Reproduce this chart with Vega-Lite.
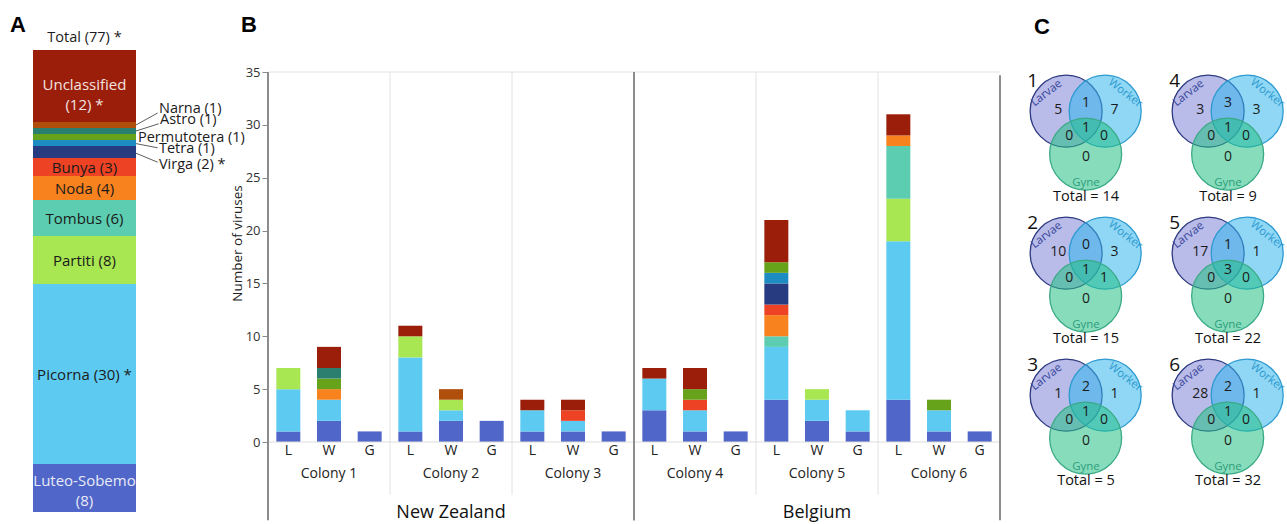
{
  "$schema": "https://vega.github.io/schema/vega-lite/v6.json",
  "padding": 0,
  "background": "white",
  "bounds": "flush",
  "spacing": 10,
  "config": {
    "view": {"stroke": null},
    "font": "Open Sans",
    "header": {"labels": false, "title": null, "labelFontSize": 0, "labelPadding": 0, "titlePadding": 0},
    "locale": {"number": {"decimal": ".", "thousands": ",", "grouping": [3], "currency": ["Total = ", ""]}}
  },
  "datasets": {
    "family": [
      {"family": "Luteo-Sobemo", "count": 8, "label": "Luteo-Sobemo\n(8)", "inside": true},
      {"family": "Picorna", "count": 30, "label": "Picorna (30) *", "inside": true},
      {"family": "Partiti", "count": 8, "label": "Partiti (8)", "inside": true},
      {"family": "Tombus", "count": 6, "label": "Tombus (6)", "inside": true},
      {"family": "Noda", "count": 4, "label": "Noda (4)", "inside": true},
      {"family": "Bunya", "count": 3, "label": "Bunya (3)", "inside": true},
      {"family": "Virga", "count": 2, "label": "Virga (2) *", "inside": false},
      {"family": "Tetra", "count": 1, "label": "Tetra (1)", "inside": false},
      {"family": "Permutotera", "count": 1, "label": "Permutotera (1)", "inside": false},
      {"family": "Astro", "count": 1, "label": "Astro (1)", "inside": false},
      {"family": "Narna", "count": 1, "label": "Narna (1)", "inside": false},
      {"family": "Unclassified", "count": 12, "label": "Unclassified\n(12) *", "inside": true}
    ],
    "bars": [
      {"colony": "Colony 1", "caste": "L", "family": "Luteo-Sobemo", "count": 1},
      {"colony": "Colony 1", "caste": "L", "family": "Picorna", "count": 4},
      {"colony": "Colony 1", "caste": "L", "family": "Partiti", "count": 2},
      {"colony": "Colony 1", "caste": "W", "family": "Luteo-Sobemo", "count": 2},
      {"colony": "Colony 1", "caste": "W", "family": "Picorna", "count": 2},
      {"colony": "Colony 1", "caste": "W", "family": "Noda", "count": 1},
      {"colony": "Colony 1", "caste": "W", "family": "Permutotera", "count": 1},
      {"colony": "Colony 1", "caste": "W", "family": "Astro", "count": 1},
      {"colony": "Colony 1", "caste": "W", "family": "Unclassified", "count": 2},
      {"colony": "Colony 1", "caste": "G", "family": "Luteo-Sobemo", "count": 1},
      {"colony": "Colony 2", "caste": "L", "family": "Luteo-Sobemo", "count": 1},
      {"colony": "Colony 2", "caste": "L", "family": "Picorna", "count": 7},
      {"colony": "Colony 2", "caste": "L", "family": "Partiti", "count": 2},
      {"colony": "Colony 2", "caste": "L", "family": "Unclassified", "count": 1},
      {"colony": "Colony 2", "caste": "W", "family": "Luteo-Sobemo", "count": 2},
      {"colony": "Colony 2", "caste": "W", "family": "Picorna", "count": 1},
      {"colony": "Colony 2", "caste": "W", "family": "Partiti", "count": 1},
      {"colony": "Colony 2", "caste": "W", "family": "Narna", "count": 1},
      {"colony": "Colony 2", "caste": "G", "family": "Luteo-Sobemo", "count": 2},
      {"colony": "Colony 3", "caste": "L", "family": "Luteo-Sobemo", "count": 1},
      {"colony": "Colony 3", "caste": "L", "family": "Picorna", "count": 2},
      {"colony": "Colony 3", "caste": "L", "family": "Unclassified", "count": 1},
      {"colony": "Colony 3", "caste": "W", "family": "Luteo-Sobemo", "count": 1},
      {"colony": "Colony 3", "caste": "W", "family": "Picorna", "count": 1},
      {"colony": "Colony 3", "caste": "W", "family": "Bunya", "count": 1},
      {"colony": "Colony 3", "caste": "W", "family": "Unclassified", "count": 1},
      {"colony": "Colony 3", "caste": "G", "family": "Luteo-Sobemo", "count": 1},
      {"colony": "Colony 4", "caste": "L", "family": "Luteo-Sobemo", "count": 3},
      {"colony": "Colony 4", "caste": "L", "family": "Picorna", "count": 3},
      {"colony": "Colony 4", "caste": "L", "family": "Unclassified", "count": 1},
      {"colony": "Colony 4", "caste": "W", "family": "Luteo-Sobemo", "count": 1},
      {"colony": "Colony 4", "caste": "W", "family": "Picorna", "count": 2},
      {"colony": "Colony 4", "caste": "W", "family": "Bunya", "count": 1},
      {"colony": "Colony 4", "caste": "W", "family": "Permutotera", "count": 1},
      {"colony": "Colony 4", "caste": "W", "family": "Unclassified", "count": 2},
      {"colony": "Colony 4", "caste": "G", "family": "Luteo-Sobemo", "count": 1},
      {"colony": "Colony 5", "caste": "L", "family": "Luteo-Sobemo", "count": 4},
      {"colony": "Colony 5", "caste": "L", "family": "Picorna", "count": 5},
      {"colony": "Colony 5", "caste": "L", "family": "Tombus", "count": 1},
      {"colony": "Colony 5", "caste": "L", "family": "Noda", "count": 2},
      {"colony": "Colony 5", "caste": "L", "family": "Bunya", "count": 1},
      {"colony": "Colony 5", "caste": "L", "family": "Virga", "count": 2},
      {"colony": "Colony 5", "caste": "L", "family": "Tetra", "count": 1},
      {"colony": "Colony 5", "caste": "L", "family": "Permutotera", "count": 1},
      {"colony": "Colony 5", "caste": "L", "family": "Unclassified", "count": 4},
      {"colony": "Colony 5", "caste": "W", "family": "Luteo-Sobemo", "count": 2},
      {"colony": "Colony 5", "caste": "W", "family": "Picorna", "count": 2},
      {"colony": "Colony 5", "caste": "W", "family": "Partiti", "count": 1},
      {"colony": "Colony 5", "caste": "G", "family": "Luteo-Sobemo", "count": 1},
      {"colony": "Colony 5", "caste": "G", "family": "Picorna", "count": 2},
      {"colony": "Colony 6", "caste": "L", "family": "Luteo-Sobemo", "count": 4},
      {"colony": "Colony 6", "caste": "L", "family": "Picorna", "count": 15},
      {"colony": "Colony 6", "caste": "L", "family": "Partiti", "count": 4},
      {"colony": "Colony 6", "caste": "L", "family": "Tombus", "count": 5},
      {"colony": "Colony 6", "caste": "L", "family": "Noda", "count": 1},
      {"colony": "Colony 6", "caste": "L", "family": "Unclassified", "count": 2},
      {"colony": "Colony 6", "caste": "W", "family": "Luteo-Sobemo", "count": 1},
      {"colony": "Colony 6", "caste": "W", "family": "Picorna", "count": 2},
      {"colony": "Colony 6", "caste": "W", "family": "Permutotera", "count": 1},
      {"colony": "Colony 6", "caste": "G", "family": "Luteo-Sobemo", "count": 1}
    ],
    "colonies": [
      {"colony": "Colony 1", "country": "New Zealand"},
      {"colony": "Colony 2", "country": "New Zealand"},
      {"colony": "Colony 3", "country": "New Zealand"},
      {"colony": "Colony 4", "country": "Belgium"},
      {"colony": "Colony 5", "country": "Belgium"},
      {"colony": "Colony 6", "country": "Belgium"}
    ],
    "venn": [
      {"colony": 1, "region": "L", "count": 5}, {"colony": 1, "region": "W", "count": 7}, {"colony": 1, "region": "G", "count": 0},
      {"colony": 1, "region": "LW", "count": 1}, {"colony": 1, "region": "LG", "count": 0}, {"colony": 1, "region": "WG", "count": 0},
      {"colony": 1, "region": "LWG", "count": 1}, {"colony": 1, "region": "Total", "count": 14},
      {"colony": 2, "region": "L", "count": 10}, {"colony": 2, "region": "W", "count": 3}, {"colony": 2, "region": "G", "count": 0},
      {"colony": 2, "region": "LW", "count": 0}, {"colony": 2, "region": "LG", "count": 0}, {"colony": 2, "region": "WG", "count": 1},
      {"colony": 2, "region": "LWG", "count": 1}, {"colony": 2, "region": "Total", "count": 15},
      {"colony": 3, "region": "L", "count": 1}, {"colony": 3, "region": "W", "count": 1}, {"colony": 3, "region": "G", "count": 0},
      {"colony": 3, "region": "LW", "count": 2}, {"colony": 3, "region": "LG", "count": 0}, {"colony": 3, "region": "WG", "count": 0},
      {"colony": 3, "region": "LWG", "count": 1}, {"colony": 3, "region": "Total", "count": 5},
      {"colony": 4, "region": "L", "count": 3}, {"colony": 4, "region": "W", "count": 3}, {"colony": 4, "region": "G", "count": 0},
      {"colony": 4, "region": "LW", "count": 3}, {"colony": 4, "region": "LG", "count": 0}, {"colony": 4, "region": "WG", "count": 0},
      {"colony": 4, "region": "LWG", "count": 1}, {"colony": 4, "region": "Total", "count": 9},
      {"colony": 5, "region": "L", "count": 17}, {"colony": 5, "region": "W", "count": 1}, {"colony": 5, "region": "G", "count": 0},
      {"colony": 5, "region": "LW", "count": 1}, {"colony": 5, "region": "LG", "count": 0}, {"colony": 5, "region": "WG", "count": 0},
      {"colony": 5, "region": "LWG", "count": 3}, {"colony": 5, "region": "Total", "count": 22},
      {"colony": 6, "region": "L", "count": 28}, {"colony": 6, "region": "W", "count": 1}, {"colony": 6, "region": "G", "count": 0},
      {"colony": 6, "region": "LW", "count": 2}, {"colony": 6, "region": "LG", "count": 0}, {"colony": 6, "region": "WG", "count": 0},
      {"colony": 6, "region": "LWG", "count": 1}, {"colony": 6, "region": "Total", "count": 32}
    ]
  },
  "hconcat": [
    {
      "width": 258,
      "height": 512,
      "data": {"name": "family"},
      "layer": [
        {
          "transform": [{"stack": "count", "groupby": [], "as": ["y0", "y1"]}],
          "mark": {"type": "rect"},
          "encoding": {
            "x": {"datum": 0, "type": "quantitative", "scale": {"domain": [-0.3204, 2.1845], "nice": false, "zero": false}, "axis": null},
            "x2": {"datum": 1},
            "y": {"field": "y1", "type": "quantitative", "scale": {"domain": [0, 85.333], "nice": false, "zero": false}, "axis": null},
            "y2": {"field": "y0"},
            "color": {
              "field": "family", "type": "nominal", "legend": null,
              "scale": {
                "domain": ["Luteo-Sobemo", "Picorna", "Partiti", "Tombus", "Noda", "Bunya", "Virga", "Tetra", "Permutotera", "Astro", "Narna", "Unclassified"],
                "range": ["#5066C8", "#5DCBF1", "#A8E652", "#5CCDB1", "#F8821E", "#EE4224", "#263B80", "#1D8CC2", "#66A31A", "#2A7F6E", "#B04F0C", "#9B1E0B"]
              }
            }
          }
        },
        {
          "transform": [
            {"stack": "count", "groupby": [], "as": ["y0", "y1"]},
            {"filter": "datum.inside"},
            {"fold": ["y0", "y1"], "as": ["edge", "pos"]},
            {"aggregate": [{"op": "mean", "field": "pos", "as": "mid"}], "groupby": ["family", "label"]}
          ],
          "layer": [
            {
              "transform": [{"filter": "datum.family !== 'Unclassified' && datum.family !== 'Luteo-Sobemo'"}],
              "mark": {"type": "text", "fontSize": 15, "align": "center", "baseline": "middle", "dy": 1, "color": "#1b1b1b"},
              "encoding": {
                "x": {"datum": 0.5, "type": "quantitative", "axis": null},
                "y": {"field": "mid", "type": "quantitative", "axis": null},
                "text": {"field": "label"}
              }
            },
            {
              "transform": [{"filter": "datum.family === 'Unclassified'"}],
              "mark": {"type": "text", "fontSize": 15, "lineBreak": "\n", "lineHeight": 20, "align": "center", "baseline": "middle", "dy": -1, "color": "#F3E4E0"},
              "encoding": {
                "x": {"datum": 0.5, "type": "quantitative", "axis": null},
                "y": {"field": "mid", "type": "quantitative", "axis": null},
                "text": {"field": "label"}
              }
            },
            {
              "transform": [{"filter": "datum.family === 'Luteo-Sobemo'"}],
              "mark": {"type": "text", "fontSize": 15, "lineBreak": "\n", "lineHeight": 20, "align": "center", "baseline": "middle", "dy": -7, "color": "#E8EAF8"},
              "encoding": {
                "x": {"datum": 0.5, "type": "quantitative", "axis": null},
                "y": {"field": "mid", "type": "quantitative", "axis": null},
                "text": {"field": "label"}
              }
            }
          ]
        },
        {
          "data": {"values": [{"label": "Total (77) *"}]},
          "mark": {"type": "text", "fontSize": 14.5, "align": "center", "baseline": "middle", "color": "#1b1b1b"},
          "encoding": {
            "x": {"datum": 0.5, "type": "quantitative", "axis": null},
            "y": {"datum": 79, "type": "quantitative", "axis": null},
            "text": {"field": "label"}
          }
        },
        {
          "data": {"values": [{"panel": "A"}]},
          "mark": {"type": "text", "fontSize": 22, "font": "Liberation Sans", "fontWeight": "bold", "align": "center", "baseline": "middle", "color": "#000"},
          "encoding": {
            "x": {"datum": -0.146, "type": "quantitative", "axis": null},
            "y": {"datum": 81.2, "type": "quantitative", "axis": null},
            "text": {"field": "panel"}
          }
        },
        {
          "data": {"values": [{"panel": "B"}]},
          "mark": {"type": "text", "fontSize": 22, "font": "Liberation Sans", "fontWeight": "bold", "align": "center", "baseline": "middle", "color": "#000"},
          "encoding": {
            "x": {"datum": 2.097, "type": "quantitative", "axis": null},
            "y": {"datum": 81.2, "type": "quantitative", "axis": null},
            "text": {"field": "panel"}
          }
        },
        {
          "transform": [{"filter": "datum.family === 'Narna'"}],
          "layer": [
            {"mark": {"type": "rule", "color": "#333", "strokeWidth": 0.8},
             "encoding": {"x": {"datum": 1.0, "type": "quantitative", "axis": null}, "x2": {"datum": 1.21}, "y": {"datum": 64.5, "type": "quantitative", "axis": null}, "y2": {"datum": 66.5}}},
            {"mark": {"type": "text", "fontSize": 14.5, "align": "left", "baseline": "middle", "color": "#1b1b1b"},
             "encoding": {"x": {"datum": 1.223, "type": "quantitative", "axis": null}, "y": {"datum": 67.2, "type": "quantitative", "axis": null}, "text": {"field": "label"}}}
          ]
        },
        {
          "transform": [{"filter": "datum.family === 'Astro'"}],
          "layer": [
            {"mark": {"type": "rule", "color": "#333", "strokeWidth": 0.8},
             "encoding": {"x": {"datum": 1.0, "type": "quantitative", "axis": null}, "x2": {"datum": 1.22}, "y": {"datum": 63.5, "type": "quantitative", "axis": null}, "y2": {"datum": 64.7}}},
            {"mark": {"type": "text", "fontSize": 14.5, "align": "left", "baseline": "middle", "color": "#1b1b1b"},
             "encoding": {"x": {"datum": 1.233, "type": "quantitative", "axis": null}, "y": {"datum": 65.3, "type": "quantitative", "axis": null}, "text": {"field": "label"}}}
          ]
        },
        {
          "transform": [{"filter": "datum.family === 'Permutotera'"}],
          "mark": {"type": "text", "fontSize": 14.5, "align": "left", "baseline": "middle", "color": "#1b1b1b"},
          "encoding": {"x": {"datum": 1.019, "type": "quantitative", "axis": null}, "y": {"datum": 62.4, "type": "quantitative", "axis": null}, "text": {"field": "label"}}
        },
        {
          "transform": [{"filter": "datum.family === 'Tetra'"}],
          "layer": [
            {"mark": {"type": "rule", "color": "#333", "strokeWidth": 0.8},
             "encoding": {"x": {"datum": 1.0, "type": "quantitative", "axis": null}, "x2": {"datum": 1.21}, "y": {"datum": 61.4, "type": "quantitative", "axis": null}, "y2": {"datum": 60.7}}},
            {"mark": {"type": "text", "fontSize": 14.5, "align": "left", "baseline": "middle", "color": "#1b1b1b"},
             "encoding": {"x": {"datum": 1.223, "type": "quantitative", "axis": null}, "y": {"datum": 60.5, "type": "quantitative", "axis": null}, "text": {"field": "label"}}}
          ]
        },
        {
          "transform": [{"filter": "datum.family === 'Virga'"}],
          "layer": [
            {"mark": {"type": "rule", "color": "#333", "strokeWidth": 0.8},
             "encoding": {"x": {"datum": 1.0, "type": "quantitative", "axis": null}, "x2": {"datum": 1.21}, "y": {"datum": 59.8, "type": "quantitative", "axis": null}, "y2": {"datum": 58.3}}},
            {"mark": {"type": "text", "fontSize": 14.5, "align": "left", "baseline": "middle", "color": "#1b1b1b"},
             "encoding": {"x": {"datum": 1.223, "type": "quantitative", "axis": null}, "y": {"datum": 57.8, "type": "quantitative", "axis": null}, "text": {"field": "label"}}}
          ]
        }
      ]
    },
    {
      "width": 732,
      "height": 442,
      "layer": [
        {
          "data": {"name": "bars"},
          "transform": [{"stack": "count", "groupby": ["colony", "caste"], "as": ["y0", "y1"]}],
          "mark": {"type": "bar"},
          "encoding": {
            "x": {"field": "colony", "type": "nominal", "scale": {"domain": ["Colony 1", "Colony 2", "Colony 3", "Colony 4", "Colony 5", "Colony 6"], "paddingInner": 0, "paddingOuter": 0}, "axis": null},
            "xOffset": {"field": "caste", "type": "nominal", "scale": {"domain": ["L", "W", "G"], "paddingInner": 0.41, "paddingOuter": 0.205}},
            "y": {
              "field": "y1", "type": "quantitative",
              "scale": {"domain": [0, 41.811], "nice": false, "zero": false},
              "axis": {
                "values": [0, 5, 10, 15, 20, 25, 30, 35], "domain": false, "grid": false,
                "tickSize": 6, "tickColor": "#8a8a8a", "tickWidth": 1,
                "labelFontSize": 13, "labelColor": "#333", "labelPadding": 2,
                "title": "Number of viruses", "titleFontSize": 13.5, "titleFontWeight": "normal", "titleColor": "#222",
                "titleY": 243, "titlePadding": 1
              }
            },
            "y2": {"field": "y0"},
            "color": {"field": "family", "type": "nominal", "legend": null}
          }
        },
        {
          "data": {"name": "bars"},
          "transform": [{"aggregate": [{"op": "count", "as": "n"}], "groupby": ["colony", "caste"]}],
          "mark": {"type": "text", "fontSize": 14, "color": "#222", "baseline": "middle"},
          "encoding": {
            "x": {"field": "colony", "type": "nominal", "axis": null},
            "xOffset": {"field": "caste", "type": "nominal"},
            "y": {"datum": -0.85, "type": "quantitative"},
            "text": {"field": "caste"}
          }
        },
        {
          "data": {"name": "colonies"},
          "mark": {"type": "text", "fontSize": 14, "color": "#222", "baseline": "middle"},
          "encoding": {
            "x": {"field": "colony", "type": "nominal", "axis": null},
            "y": {"datum": -3.0, "type": "quantitative"},
            "text": {"field": "colony"}
          }
        },
        {
          "data": {"name": "colonies"},
          "mark": {"type": "rule", "color": "#e2e2e2", "strokeWidth": 1},
          "encoding": {
            "x": {"field": "colony", "type": "nominal", "bandPosition": 0, "axis": null},
            "y": {"datum": 35, "type": "quantitative"},
            "y2": {"datum": -5.0}
          }
        },
        {
          "data": {"values": [{"line": "zero"}]},
          "mark": {"type": "rule", "color": "#dcdcdc", "strokeWidth": 1},
          "encoding": {"y": {"datum": 0, "type": "quantitative"}}
        },
        {
          "data": {"values": [{"line": "top"}]},
          "mark": {"type": "rule", "color": "#e4e4e4", "strokeWidth": 1},
          "encoding": {"y": {"datum": 35, "type": "quantitative"}}
        },
        {
          "data": {"name": "colonies"},
          "transform": [
            {"window": [{"op": "row_number", "as": "rn"}], "groupby": ["country"], "sort": [{"field": "colony", "order": "ascending"}]},
            {"filter": "datum.rn === 1"}
          ],
          "layer": [
            {
              "mark": {"type": "rule", "color": "#8c8c8c", "strokeWidth": 2},
              "encoding": {
                "x": {"field": "colony", "type": "nominal", "bandPosition": 0, "axis": null},
                "y": {"datum": 35, "type": "quantitative"},
                "y2": {"datum": -7.4}
              }
            },
            {
              "mark": {"type": "text", "fontSize": 18, "color": "#111", "baseline": "middle"},
              "encoding": {
                "x": {"field": "colony", "type": "nominal", "bandPosition": 1.5, "axis": null},
                "y": {"datum": -6.72, "type": "quantitative"},
                "text": {"field": "country"}
              }
            }
          ]
        },
        {
          "data": {"name": "colonies"},
          "transform": [
            {"window": [{"op": "row_number", "as": "rn"}], "groupby": ["country"], "sort": [{"field": "colony", "order": "descending"}]},
            {"filter": "datum.rn === 1"}
          ],
          "mark": {"type": "rule", "color": "#8c8c8c", "strokeWidth": 2},
          "encoding": {
            "x": {"field": "colony", "type": "nominal", "bandPosition": 1, "axis": null},
            "y": {"datum": 34.7, "type": "quantitative"},
            "y2": {"datum": -7.4}
          }
        }
      ]
    },
    {
      "data": {"name": "venn"},
      "facet": {"field": "colony", "type": "ordinal", "sort": [1, 4, 2, 5, 3, 6], "header": null},
      "columns": 2,
      "spacing": 0,
      "bounds": "flush",
      "spec": {
        "width": 142,
        "height": 142,
        "layer": [
          {
            "transform": [{"filter": "datum.region === 'Total'"}],
            "mark": {"type": "point", "shape": "circle", "filled": true, "size": 5184, "opacity": 1, "fill": "#8084D6", "fillOpacity": 0.55, "stroke": "#2E3A80", "strokeWidth": 1.3, "strokeOpacity": 1},
            "encoding": {
              "x": {"datum": -0.56, "type": "quantitative", "scale": {"domain": [-2.141, 1.859], "nice": false, "zero": false}, "axis": null},
              "y": {"datum": 0.70, "type": "quantitative", "scale": {"domain": [-0.169, 3.831], "nice": false, "zero": false}, "axis": null}
            }
          },
          {
            "transform": [{"filter": "datum.region === 'Total'"}],
            "mark": {"type": "point", "shape": "circle", "filled": true, "size": 5184, "opacity": 1, "fill": "#33B6ED", "fillOpacity": 0.55, "stroke": "#2C9AD0", "strokeWidth": 1.3, "strokeOpacity": 1},
            "encoding": {
              "x": {"datum": 0.54, "type": "quantitative", "axis": null},
              "y": {"datum": 0.70, "type": "quantitative", "axis": null}
            }
          },
          {
            "transform": [{"filter": "datum.region === 'Total'"}],
            "mark": {"type": "point", "shape": "circle", "filled": true, "size": 5184, "opacity": 1, "fill": "#23BF83", "fillOpacity": 0.55, "stroke": "#3AAA86", "strokeWidth": 1.3, "strokeOpacity": 1},
            "encoding": {
              "x": {"datum": -0.01, "type": "quantitative", "axis": null},
              "y": {"datum": -0.51, "type": "quantitative", "axis": null}
            }
          },
          {
            "transform": [{"filter": "datum.region === 'L'"}],
            "mark": {"type": "text", "fontSize": 14, "color": "#1b1b1b", "baseline": "middle"},
            "encoding": {"x": {"datum": -0.78, "type": "quantitative", "axis": null}, "y": {"datum": 0.73, "type": "quantitative", "axis": null}, "text": {"field": "count"}}
          },
          {
            "transform": [{"filter": "datum.region === 'LW'"}],
            "mark": {"type": "text", "fontSize": 14, "color": "#1b1b1b", "baseline": "middle"},
            "encoding": {"x": {"datum": 0.0, "type": "quantitative", "axis": null}, "y": {"datum": 0.94, "type": "quantitative", "axis": null}, "text": {"field": "count"}}
          },
          {
            "transform": [{"filter": "datum.region === 'W'"}],
            "mark": {"type": "text", "fontSize": 14, "color": "#1b1b1b", "baseline": "middle"},
            "encoding": {"x": {"datum": 0.80, "type": "quantitative", "axis": null}, "y": {"datum": 0.73, "type": "quantitative", "axis": null}, "text": {"field": "count"}}
          },
          {
            "transform": [{"filter": "datum.region === 'LWG'"}],
            "mark": {"type": "text", "fontSize": 14, "color": "#1b1b1b", "baseline": "middle"},
            "encoding": {"x": {"datum": 0.0, "type": "quantitative", "axis": null}, "y": {"datum": 0.22, "type": "quantitative", "axis": null}, "text": {"field": "count"}}
          },
          {
            "transform": [{"filter": "datum.region === 'LG'"}],
            "mark": {"type": "text", "fontSize": 14, "color": "#1b1b1b", "baseline": "middle"},
            "encoding": {"x": {"datum": -0.47, "type": "quantitative", "axis": null}, "y": {"datum": 0.0, "type": "quantitative", "axis": null}, "text": {"field": "count"}}
          },
          {
            "transform": [{"filter": "datum.region === 'WG'"}],
            "mark": {"type": "text", "fontSize": 14, "color": "#1b1b1b", "baseline": "middle"},
            "encoding": {"x": {"datum": 0.51, "type": "quantitative", "axis": null}, "y": {"datum": 0.0, "type": "quantitative", "axis": null}, "text": {"field": "count"}}
          },
          {
            "transform": [{"filter": "datum.region === 'G'"}],
            "mark": {"type": "text", "fontSize": 14, "color": "#1b1b1b", "baseline": "middle"},
            "encoding": {"x": {"datum": 0.0, "type": "quantitative", "axis": null}, "y": {"datum": -0.58, "type": "quantitative", "axis": null}, "text": {"field": "count"}}
          },
          {
            "transform": [{"filter": "datum.region === 'Total'"}],
            "mark": {"type": "text", "fontSize": 11.5, "color": "#34449A", "angle": -38, "baseline": "middle"},
            "encoding": {"x": {"datum": -1.11, "type": "quantitative", "axis": null}, "y": {"datum": 1.20, "type": "quantitative", "axis": null}, "text": {"value": "Larvae"}}
          },
          {
            "transform": [{"filter": "datum.region === 'Total'"}],
            "mark": {"type": "text", "fontSize": 11.5, "color": "#2C9AD0", "angle": 38, "baseline": "middle"},
            "encoding": {"x": {"datum": 1.10, "type": "quantitative", "axis": null}, "y": {"datum": 1.20, "type": "quantitative", "axis": null}, "text": {"value": "Worker"}}
          },
          {
            "transform": [{"filter": "datum.region === 'Total'"}],
            "mark": {"type": "text", "fontSize": 11.5, "color": "#2E9E7C", "baseline": "middle"},
            "encoding": {"x": {"datum": 0.0, "type": "quantitative", "axis": null}, "y": {"datum": -1.33, "type": "quantitative", "axis": null}, "text": {"value": "Gyne"}}
          },
          {
            "transform": [{"filter": "datum.region === 'Total'"}],
            "mark": {"type": "text", "fontSize": 14.5, "color": "#111", "baseline": "middle"},
            "encoding": {"x": {"datum": 0.0, "type": "quantitative", "axis": null}, "y": {"datum": -1.71, "type": "quantitative", "axis": null}, "text": {"field": "count", "type": "quantitative", "format": "$d"}}
          },
          {
            "transform": [{"filter": "datum.region === 'Total'"}],
            "mark": {"type": "text", "fontSize": 19, "color": "#111", "baseline": "middle"},
            "encoding": {"x": {"datum": -1.50, "type": "quantitative", "axis": null}, "y": {"datum": 1.56, "type": "quantitative", "axis": null}, "text": {"field": "colony"}}
          },
          {
            "transform": [{"filter": "datum.region === 'Total' && datum.colony === 1"}],
            "mark": {"type": "text", "fontSize": 22, "font": "Liberation Sans", "fontWeight": "bold", "color": "#000", "baseline": "middle"},
            "encoding": {"x": {"datum": -1.24, "type": "quantitative", "axis": null}, "y": {"datum": 3.07, "type": "quantitative", "axis": null}, "text": {"value": "C"}}
          }
        ]
      }
    }
  ]
}
